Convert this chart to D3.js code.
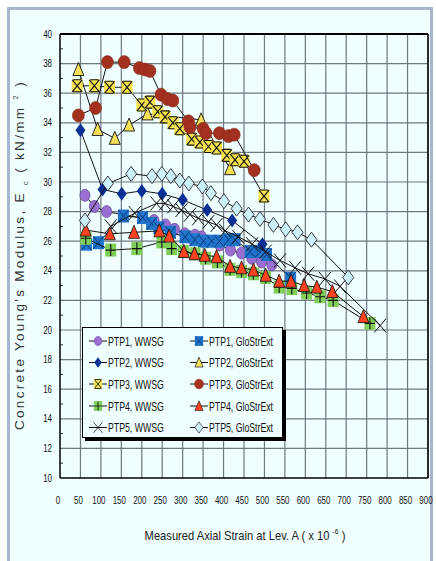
<!DOCTYPE html>
<html lang="en">
<head>
<meta charset="utf-8">
<title>Concrete Young's Modulus vs axial strain</title>
<script src="https://d3js.org/d3.v7.min.js"></script>
<style>
  body { margin: 0; background: #fff; }
  #chart1 { width: 436px; height: 561px; }
  .tick-label { font-family: "Liberation Sans", Arial, sans-serif; font-size: 10.5px; fill: #111; }
  .legend-text { font-family: "Liberation Sans", Arial, sans-serif; font-size: 12.5px; fill: #111; }
</style>
</head>
<body>
<div id="chart1"></div>
<script>
// ---- data (strain x10^-6, modulus kN/mm2) ----
const seriesNames = ["PTP1, WWSG", "PTP1, GloStrExt", "PTP2, WWSG", "PTP2, GloStrExt",
  "PTP3, WWSG", "PTP3, GloStrExt", "PTP4, WWSG", "PTP4, GloStrExt", "PTP5, WWSG", "PTP5, GloStrExt"];

const ptp1Wwsg = [[61,29.1],[84,28.35],[114,28.0],[230,27.4],[258,27.1],[280,26.8],[305,26.5],[330,26.4],[346,26.3],[391,25.75],[417,25.4],[444,25.2],[469,24.85],[493,24.6],[518,24.4]];
const ptp1Glo = [[65,25.8],[94,25.9],[155,27.7],[202,27.6],[224,27.2],[242,26.9],[270,26.6],[306,26.3],[330,26.1],[351,26.0],[371,26.0],[390,26.0],[412,26.1],[428,26.1],[465,25.3],[489,25.3],[505,25.1],[564,23.5]];
const ptp2Wwsg = [[50,33.5],[104,29.5],[151,29.2],[200,29.4],[250,29.2],[300,28.8],[360,28.1],[421,27.4],[495,25.8]];
const ptp2Glo = [[45,37.6],[92,33.55],[134,32.95],[169,33.85],[214,34.6],[345,34.2],[416,30.9]];
const ptp3Wwsg = [[42,36.5],[84,36.5],[121,36.4],[164,36.4],[200,35.2],[220,35.4],[239,34.75],[257,34.4],[276,34.0],[293,33.6],[322,32.9],[342,32.7],[363,32.4],[383,32.3],[408,31.8],[428,31.5],[450,31.4],[499,29.05]];
const ptp3Glo = [[45,34.5],[87,35.0],[116,38.1],[157,38.1],[194,37.7],[208,37.6],[220,37.5],[247,35.9],[263,35.6],[276,35.5],[314,34.1],[318,33.7],[350,33.6],[357,33.3],[390,33.3],[412,33.1],[426,33.2],[475,30.8]];
const ptp4Wwsg = [[63,26.2],[124,25.4],[188,25.5],[249,25.95],[273,25.5],[302,25.3],[330,25.15],[356,24.85],[385,24.6],[416,24.1],[444,23.95],[473,23.8],[503,23.55],[536,22.9],[567,22.8],[603,22.5],[636,22.25],[668,22.0],[758,20.45]];
const ptp4Glo = [[63,26.75],[122,26.5],[181,26.6],[243,26.7],[267,26.35],[303,25.3],[329,25.15],[354,25.05],[383,24.95],[416,24.3],[444,24.2],[473,24.05],[503,23.7],[536,23.3],[565,23.3],[597,23.0],[628,22.9],[666,22.6],[742,20.9]];
const ptp5Wwsg = [[124,27.0],[183,27.9],[236,28.55],[257,28.55],[277,28.35],[297,28.1],[318,27.8],[338,27.55],[363,27.3],[383,27.1],[404,26.7],[436,26.3],[470,25.8],[503,25.3],[538,24.7],[575,24.2],[607,23.8],[648,23.45],[685,22.95],[783,20.3]];
const ptp5Glo = [[61,27.4],[117,29.9],[174,30.55],[225,30.4],[249,30.55],[271,30.4],[293,30.1],[315,29.9],[348,29.7],[369,29.25],[401,28.7],[432,28.2],[461,27.8],[489,27.5],[522,27.1],[552,26.8],[581,26.6],[615,26.1],[705,23.55]];

const xTicks = d3.range(0, 901, 50);
const yTicks = d3.range(10, 41, 2);

const allSeries = [ptp1Wwsg, ptp1Glo, ptp2Wwsg, ptp2Glo, ptp3Wwsg, ptp3Glo, ptp4Wwsg, ptp4Glo, ptp5Wwsg, ptp5Glo];
const markerTypes = ["purpleCircle", "blueBox", "navyDiamond", "yellowTri", "yellowStar", "redCircle", "greenPlus", "redTri", "blackX", "lightDiamond"];

// ---- layout ----
const W = 436, H = 561;
const plot = {left: 60, right: 428, top: 34, bottom: 478};

const svg = d3.select("#chart1").append("svg")
    .attr("width", W).attr("height", H);

// outer frame
svg.append("rect").attr("x", 8.5).attr("y", 8.5).attr("width", 423).attr("height", 600)
    .attr("fill", "#f0ffff").attr("stroke", "#a9b5cf").attr("stroke-width", 3);

const x = d3.scaleLinear().domain([0, 900]).range([plot.left, plot.right]);
const y = d3.scaleLinear().domain([10, 40]).range([plot.bottom, plot.top]);

// grid
const grid = svg.append("g");
grid.selectAll(".vg").data(xTicks.slice(1)).enter().append("line")
    .attr("x1", d => x(d)).attr("x2", d => x(d))
    .attr("y1", plot.top).attr("y2", plot.bottom)
    .attr("stroke", "#6f7780").attr("stroke-width", 1.2);
grid.selectAll(".hg").data(yTicks.slice(1)).enter().append("line")
    .attr("x1", plot.left).attr("x2", plot.right)
    .attr("y1", d => y(d)).attr("y2", d => y(d))
    .attr("stroke", "#6f7780").attr("stroke-width", 1.2);

// minor ticks on y axis
svg.append("g").selectAll("line").data(d3.range(11, 40, 2)).enter().append("line")
    .attr("x1", plot.left).attr("x2", plot.left + 3)
    .attr("y1", d => y(d)).attr("y2", d => y(d))
    .attr("stroke", "#333").attr("stroke-width", 1);

// axes frame
svg.append("line").attr("x1", plot.left).attr("x2", plot.right).attr("y1", plot.top).attr("y2", plot.top)
    .attr("stroke", "#000").attr("stroke-width", 2);
svg.append("line").attr("x1", plot.right).attr("x2", plot.right).attr("y1", plot.top).attr("y2", plot.bottom)
    .attr("stroke", "#000").attr("stroke-width", 1.5);
svg.append("line").attr("x1", plot.left).attr("x2", plot.left).attr("y1", plot.top).attr("y2", plot.bottom)
    .attr("stroke", "#000").attr("stroke-width", 1.5);
svg.append("line").attr("x1", plot.left).attr("x2", plot.right).attr("y1", plot.bottom).attr("y2", plot.bottom)
    .attr("stroke", "#000").attr("stroke-width", 1.5);

// tick labels (narrow, like the original condensed face)
svg.append("g").selectAll("text").data(yTicks).enter().append("text")
    .attr("class", "tick-label")
    .attr("transform", d => "translate(52," + (y(d) + 3.5) + ") scale(0.76,1)")
    .attr("text-anchor", "end")
    .text(d => d);
svg.append("g").selectAll("text").data(xTicks).enter().append("text")
    .attr("class", "tick-label")
    .attr("transform", d => "translate(" + (x(d) - 2) + ",504) scale(0.76,1)")
    .attr("text-anchor", "middle")
    .text(d => d);

// axis titles
const xt = svg.append("text")
    .attr("transform", "translate(245,540) scale(0.86,1)")
    .attr("text-anchor", "middle")
    .style("font-family", "'Liberation Sans', Arial, sans-serif")
    .style("font-size", "13px").attr("fill", "#222");
xt.append("tspan").text("Measured Axial Strain at Lev. A ( x 10 ");
xt.append("tspan").attr("dy", -6).style("font-size", "8px").text(" -6");
xt.append("tspan").attr("dy", 6).text(" )");

const yt = svg.append("text")
    .attr("transform", "translate(24,255) rotate(-90)")
    .attr("text-anchor", "middle")
    .style("font-family", "'Liberation Sans', Arial, sans-serif")
    .style("font-size", "13.5px").style("letter-spacing", "2.3px").attr("fill", "#333");
yt.append("tspan").text("Concrete Young's Modulus, E ");
yt.append("tspan").attr("dy", 4).style("font-size", "8px").text("c");
yt.append("tspan").attr("dy", -4).text(" ( kN/mm ");
yt.append("tspan").attr("dy", -6).style("font-size", "8px").text(" 2");
yt.append("tspan").attr("dy", 6).text(" )");

// ---- markers ----
function drawMarker(g, type, cx, cy) {
  const m = g.append("g").attr("transform", "translate(" + cx + "," + cy + ")");
  if (type === "purpleCircle") {
    m.append("ellipse").attr("rx", 5).attr("ry", 6).attr("fill", "#9a6fd2").attr("stroke", "#6a48a0").attr("stroke-width", 0.8);
  } else if (type === "redCircle") {
    m.append("ellipse").attr("rx", 6).attr("ry", 6.5).attr("fill", "#a2311f").attr("stroke", "#8a2a1a").attr("stroke-width", 0.6);
  } else if (type === "blueBox") {
    m.append("rect").attr("x", -5.5).attr("y", -6.5).attr("width", 11).attr("height", 13).attr("fill", "#1f74cc");
    m.append("path").attr("d", "M-5,-6L5,6M5,-6L-5,6").attr("stroke", "#0b3a7a").attr("stroke-width", 1);
  } else if (type === "navyDiamond") {
    m.append("path").attr("d", "M0,-7L5,0L0,7L-5,0Z").attr("fill", "#0a2f96");
  } else if (type === "lightDiamond") {
    m.append("path").attr("d", "M0,-7.5L5.5,0L0,7.5L-5.5,0Z").attr("fill", "#cdf1fc").attr("stroke", "#111").attr("stroke-width", 0.8);
  } else if (type === "yellowTri") {
    m.append("path").attr("d", "M0,-7L5.5,6L-5.5,6Z").attr("fill", "#f6e05a").attr("stroke", "#111").attr("stroke-width", 0.9);
  } else if (type === "redTri") {
    m.append("path").attr("d", "M0,-7L5.5,6L-5.5,6Z").attr("fill", "#ff4321").attr("stroke", "#111").attr("stroke-width", 0.8);
  } else if (type === "yellowStar") {
    m.append("rect").attr("x", -5.5).attr("y", -6.5).attr("width", 11).attr("height", 13).attr("fill", "#f5e24e");
    m.append("path").attr("d", "M-5,-6L5,6M5,-6L-5,6M-4,-6H4M-4,6H4").attr("stroke", "#111").attr("stroke-width", 1.1);
  } else if (type === "greenPlus") {
    m.append("rect").attr("x", -5.5).attr("y", -6.5).attr("width", 11).attr("height", 13).attr("fill", "#7fcf58");
    m.append("path").attr("d", "M-5,0H5M0,-6V6").attr("stroke", "#111").attr("stroke-width", 1.1);
  } else if (type === "blackX") {
    m.append("path").attr("d", "M-6,-7L6,7M6,-7L-6,7").attr("stroke", "#111").attr("stroke-width", 1);
  }
  return m;
}

const line = d3.line().x(d => x(d[0])).y(d => y(d[1]));
const layers = svg.append("g");
allSeries.forEach((data, i) => {
  const g = layers.append("g");
  g.append("path").datum(data).attr("d", line)
      .attr("fill", "none").attr("stroke", "#111").attr("stroke-width", 1);
  data.forEach(d => drawMarker(g, markerTypes[i], x(d[0]), y(d[1])));
});

// ---- legend ----
const lg = svg.append("g");
lg.append("rect").attr("x", 85).attr("y", 330).attr("width", 201).attr("height", 111).attr("fill", "#000");
lg.append("rect").attr("x", 82.5).attr("y", 327.5).attr("width", 200).attr("height", 110)
    .attr("fill", "#f0ffff").attr("stroke", "#000").attr("stroke-width", 1);
const rowY = [341, 362.5, 384, 406, 427.5];
const colX = [98, 199];
seriesNames.forEach((name, i) => {
  const cx = colX[i % 2], cy = rowY[Math.floor(i / 2)];
  lg.append("line").attr("x1", cx - 9).attr("x2", cx + 9).attr("y1", cy).attr("y2", cy)
      .attr("stroke", "#111").attr("stroke-width", 1);
  const mk = drawMarker(lg, markerTypes[i], cx, cy);
  mk.attr("transform", "translate(" + cx + "," + cy + ") scale(0.75)");
  lg.append("text").attr("class", "legend-text")
      .attr("transform", "translate(" + (cx + 10) + "," + (cy + 4.5) + ") scale(0.7,1)")
      .text(name);
});
</script>
</body>
</html>
